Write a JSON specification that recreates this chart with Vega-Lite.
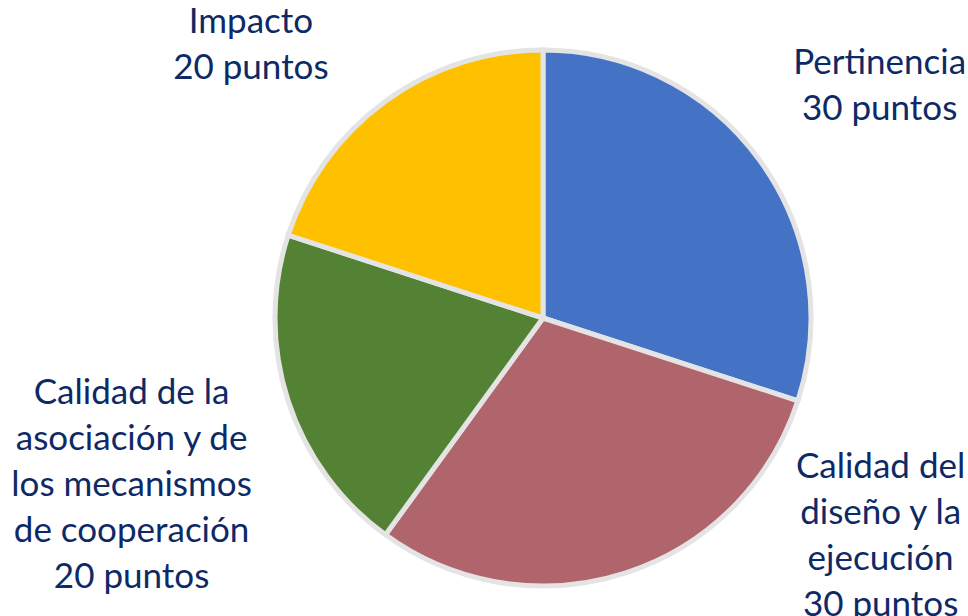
{
  "$schema": "https://vega.github.io/schema/vega-lite/v6.json",
  "autosize": "none",
  "width": 850,
  "height": 596,
  "padding": {"left": 118, "top": 20, "right": 0, "bottom": 0},
  "background": "white",
  "view": {"stroke": null},
  "data": {
    "values": [
      {"order": 1, "category": "Pertinencia", "label": "Pertinencia\n30 puntos", "points": 30},
      {"order": 2, "category": "Diseño", "label": "Calidad del\ndiseño y la\nejecución\n30 puntos", "points": 30},
      {"order": 3, "category": "Asociación", "label": "Calidad de la\nasociación y de\nlos mecanismos\nde cooperación\n20 puntos", "points": 20},
      {"order": 4, "category": "Impacto", "label": "Impacto\n20 puntos", "points": 20}
    ]
  },
  "encoding": {
    "theta": {"field": "points", "type": "quantitative", "stack": true},
    "order": {"field": "order", "type": "ordinal"}
  },
  "layer": [
    {
      "mark": {"type": "arc", "outerRadius": 268, "stroke": "#E4E4E4", "strokeWidth": 5},
      "encoding": {
        "color": {
          "field": "category",
          "type": "nominal",
          "scale": {
            "domain": ["Pertinencia", "Diseño", "Asociación", "Impacto"],
            "range": ["#4472C4", "#B0646C", "#548235", "#FFC000"]
          },
          "legend": null
        }
      }
    },
    {
      "mark": {"type": "text", "radius": 400, "dx": 13, "dy": -20, "font": "Lato", "fontSize": 35, "lineHeight": 46, "lineBreak": "\n", "align": "center", "baseline": "middle", "color": "#0E2A66"},
      "encoding": {"text": {"condition": {"test": "datum.category === 'Pertinencia'", "field": "label"}, "value": ""}}
    },
    {
      "mark": {"type": "text", "radius": 400, "dx": 214, "dy": -231, "font": "Lato", "fontSize": 35, "lineHeight": 46, "lineBreak": "\n", "align": "center", "baseline": "middle", "color": "#0E2A66"},
      "encoding": {"text": {"condition": {"test": "datum.category === 'Diseño'", "field": "label"}, "value": ""}}
    },
    {
      "mark": {"type": "text", "radius": 400, "dx": -31, "dy": -49, "font": "Lato", "fontSize": 35, "lineHeight": 46, "lineBreak": "\n", "align": "center", "baseline": "middle", "color": "#0E2A66"},
      "encoding": {"text": {"condition": {"test": "datum.category === 'Asociación'", "field": "label"}, "value": ""}}
    },
    {
      "mark": {"type": "text", "radius": 400, "dx": -57, "dy": 28, "font": "Lato", "fontSize": 35, "lineHeight": 46, "lineBreak": "\n", "align": "center", "baseline": "middle", "color": "#0E2A66"},
      "encoding": {"text": {"condition": {"test": "datum.category === 'Impacto'", "field": "label"}, "value": ""}}
    }
  ]
}
